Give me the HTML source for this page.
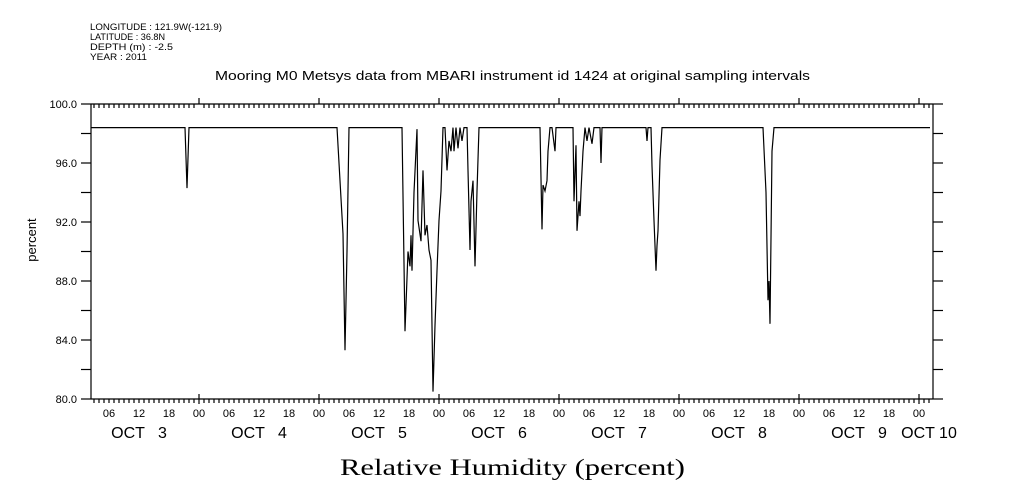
<!DOCTYPE html>
<html><head><meta charset="utf-8"><style>
body{margin:0;background:#fff;}
svg{display:block;font-family:"Liberation Sans",sans-serif;}
text{white-space:pre;}
</style></head><body>
<svg id="chart" width="1009" height="504" viewBox="0 0 1009 504" xml:space="preserve">
<g font-size="9" fill="#000">
<text x="90" y="30" textLength="132" lengthAdjust="spacingAndGlyphs">LONGITUDE : 121.9W(-121.9)</text>
<text x="90" y="40" textLength="75" lengthAdjust="spacingAndGlyphs">LATITUDE : 36.8N</text>
<text x="90" y="50" textLength="83" lengthAdjust="spacingAndGlyphs">DEPTH (m) : -2.5</text>
<text x="90" y="60" textLength="57" lengthAdjust="spacingAndGlyphs">YEAR : 2011</text>
</g>
<text x="215" y="80" font-size="13" textLength="595" lengthAdjust="spacingAndGlyphs">Mooring M0 Metsys data from MBARI instrument id 1424 at original sampling intervals</text>
<text x="340" y="475" font-size="23" textLength="345" lengthAdjust="spacingAndGlyphs" font-family="Liberation Serif, serif">Relative Humidity (percent)</text>
<text x="36" y="240" font-size="13" text-anchor="middle" transform="rotate(-90 36 240)">percent</text>
<g id="axes"></g>
<path id="series" fill="none" stroke="#000" stroke-width="1.2"/>
</svg>
<script>
const hours=[2.4,21.2,21.6,22.0,51.6,52.8,53.2,53.6,54.0,64.6,65.2,65.8,66.2,66.4,66.6,67.0,67.6,67.8,68.4,68.8,69.2,69.6,70.0,70.4,70.8,71.2,71.6,72.0,72.4,72.8,73.2,73.6,74.0,74.4,74.8,75.0,75.4,75.8,76.2,76.6,77.0,77.6,77.8,78.2,78.4,78.8,79.2,79.6,80.0,92.2,92.6,92.8,93.2,93.6,93.8,94.2,94.6,95.2,95.4,98.8,99.0,99.4,99.6,100.0,100.2,100.4,100.8,101.2,101.6,102.0,102.6,103.0,104.2,104.4,104.6,113.4,113.6,113.8,114.4,114.6,115.0,115.4,115.6,115.8,116.2,116.6,136.8,137.4,137.8,138.0,138.2,138.6,139.0,170.2];
const values=[98.4,98.4,94.3,98.4,98.4,91.2,83.3,90.0,98.4,98.4,84.6,90.0,89.0,91.1,88.7,94.0,98.3,92.1,90.7,95.5,91.1,91.8,90.1,89.4,80.5,85.0,88.7,92.1,94.1,98.4,98.4,95.5,97.5,96.8,98.4,96.8,98.4,97.0,98.4,97.5,98.4,98.4,95.5,90.1,93.4,94.8,89.0,94.1,98.4,98.4,91.5,94.5,94.1,94.8,96.8,98.4,98.4,96.8,98.4,98.4,93.4,97.2,91.4,93.4,92.4,94.1,96.8,98.4,97.5,98.4,97.3,98.4,98.4,96.0,98.4,98.4,97.5,98.4,98.4,95.8,92.1,88.7,90.4,91.4,96.2,98.4,98.4,94.0,86.7,88.0,85.1,96.8,98.4,98.4];
const yTicks=[80,84,88,92,96,100];
const hourLabels=["06","12","18","00"];
const dayLabels=["OCT   3","OCT   4","OCT   5","OCT   6","OCT   7","OCT   8","OCT   9"];
const L=91,R=933,T=104,B=399;
const H0=2.4,H1=170.8;
function xs(h){return L+(h-H0)/(H1-H0)*(R-L);}
function ys(v){return B-(v-80)/20*(B-T);}
const NS="http://www.w3.org/2000/svg";
const ax=document.getElementById('axes');
function ln(x1,y1,x2,y2,n){const e=document.createElementNS(NS,'line');e.setAttribute('x1',x1);e.setAttribute('y1',y1);e.setAttribute('x2',x2);e.setAttribute('y2',y2);e.setAttribute('stroke','#000');e.setAttribute('stroke-width','1.2');


ax.appendChild(e);}
function tx(x,y,s,size,anchor,n){const e=document.createElementNS(NS,'text');e.setAttribute('x',x);e.setAttribute('y',y);e.setAttribute('font-size',size);e.setAttribute('text-anchor',anchor);e.textContent=s;


ax.appendChild(e);}
ln(L,T,R,T,'top-axis');ln(L,B,R,B,'bottom-axis');ln(L,T,L,B,'left-axis');ln(R,T,R,B,'right-axis');
for(let v=80;v<=100;v+=2){ln(L-10,ys(v),L,ys(v),'y-tick');ln(R,ys(v),R+10,ys(v),'y-tick-right');}
yTicks.forEach(v=>tx(L-14,ys(v)+4,v.toFixed(1),11,'end','y-tick-label'));
for(let h=Math.ceil(H0);h<=H1;h++){const x=xs(h);
 if(h%24===0){ln(x,T-6,x,T,'x-major-tick-top');ln(x,B-5,x,B+5,'x-major-tick');}
 else{ln(x,T,x,T+4,'x-minor-tick-top');ln(x,B,x,B+4,'x-minor-tick');}
 if(h%6===0){tx(x,417,hourLabels[(h/6+3)%4],11,'middle','x-hour-label');}
}
dayLabels.forEach((d,i)=>tx(xs(i*24+12),438,d,16,'middle','x-day-label'));
tx(xs(7*24)+10,438,'OCT 10',16,'middle','x-day-label');
let d='';hours.forEach((h,i)=>{d+=(i?'L':'M')+xs(h).toFixed(1)+' '+ys(values[i]).toFixed(1);});
document.getElementById('series').setAttribute('d',d);
</script>
</body></html>
